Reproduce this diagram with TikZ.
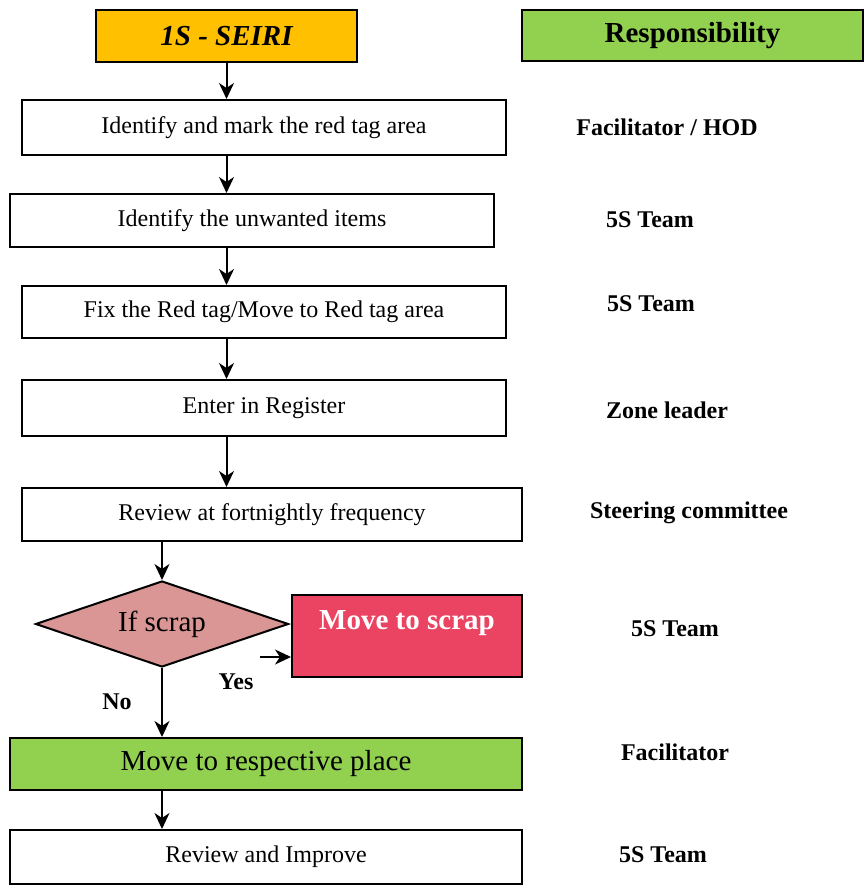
\documentclass[tikz,border=0pt]{standalone}
\usepackage{fontspec}
\setmainfont{Liberation Serif}
\usetikzlibrary{arrows.meta,positioning,shapes.geometric}
\definecolor{seiriorange}{HTML}{FFC000}
\definecolor{respgreen}{HTML}{92D050}
\definecolor{scrappink}{HTML}{D99694}
\definecolor{scrapred}{HTML}{EA4462}

\begin{document}
\begin{tikzpicture}[x=0.5pt,y=-0.5pt,line width=1pt,
    >={Stealth[length=8pt,width=7.5pt,inset=2.5pt]},
    stepbox/.style={draw, inner sep=0pt, font=\fontsize{12}{14}\selectfont},
    who/.style={font=\fontsize{12}{14}\selectfont\bfseries},
    bigtxt/.style={font=\fontsize{14.5}{17}\selectfont}]
  \useasboundingbox (0,0) rectangle (867,892);
  % headers
  \node[stepbox, fill=seiriorange, minimum width=130.5pt, minimum height=26pt,
        font=\fontsize{14.5}{17}\selectfont\bfseries\itshape] (seiri) at (226.5,36) {1S - SEIRI};
  \node[stepbox, fill=respgreen, minimum width=170.5pt, minimum height=25.5pt,
        font=\fontsize{14.5}{17}\selectfont\bfseries] (resp) at (692.5,35.5) {Responsibility};
  % steps
  \node[stepbox, minimum width=242pt, minimum height=27.5pt] (mark) at (264,127.5) {Identify and mark the red tag area};
  \node[stepbox, minimum width=242pt, minimum height=26.5pt] (unwanted) at (252,220.5) {Identify the unwanted items};
  \node[stepbox, minimum width=242pt, minimum height=26pt] (fixtag) at (264,312) {Fix the Red tag/Move to Red tag area};
  \node[stepbox, minimum width=242pt, minimum height=28pt] (register) at (264,408) {Enter in Register};
  \node[stepbox, minimum width=250pt, minimum height=26.5pt] (review) at (272,514.5) {Review at fortnightly frequency};
  \node[diamond, draw, fill=scrappink, inner sep=0pt, aspect=3,
        minimum width=126.5pt, minimum height=43pt, bigtxt] (ifscrap) at (162,624) {If scrap};
  \node[stepbox, fill=scrapred, minimum width=115pt, minimum height=41pt,
        label={[white, yshift=6.5pt, font=\fontsize{14.5}{17}\selectfont\bfseries]center:Move to scrap}] (scrap) at (407,636) {};
  \node[stepbox, fill=respgreen, minimum width=256pt, minimum height=26pt, bigtxt] (place) at (266,764) {Move to respective place};
  \node[stepbox, minimum width=256pt, minimum height=27pt] (improve) at (266,857) {Review and Improve};
  % who is responsible
  \node[who] (rmark) at (667,127) {Facilitator / HOD};
  \node[who] (runwanted) at (650,220) {5S Team};
  \node[who] (rfixtag) at (651,304) {5S Team};
  \node[who] (rregister) at (667,410) {Zone leader};
  \node[who] (rreview) at (689,513) {Steering committee};
  \node[who] (rscrap) at (675,629) {5S Team};
  \node[who] (rplace) at (675,752) {Facilitator};
  \node[who] (rimprove) at (663,855) {5S Team};
  % decision labels
  \node[who] (yes) at (236,682) {Yes};
  \node[who] (no) at (117,702) {No};
  % arrows
  \draw[->] (seiri.south) -- (seiri.south |- mark.north);
  \draw[->] (seiri.south |- mark.south) -- (seiri.south |- unwanted.north);
  \draw[->] (seiri.south |- unwanted.south) -- (seiri.south |- fixtag.north);
  \draw[->] (seiri.south |- fixtag.south) -- (seiri.south |- register.north);
  \draw[->] (seiri.south |- register.south) -- (seiri.south |- review.north);
  \draw[->] (ifscrap.north |- review.south) -- (ifscrap.north);
  \coordinate (yesfrom) at (260,657);
  \draw[->] (yesfrom) -- (yesfrom -| scrap.west);
  \draw[->] (ifscrap.south) -- (ifscrap.south |- place.north);
  \draw[->] (ifscrap.south |- place.south) -- (ifscrap.south |- improve.north);
\end{tikzpicture}
\end{document}
